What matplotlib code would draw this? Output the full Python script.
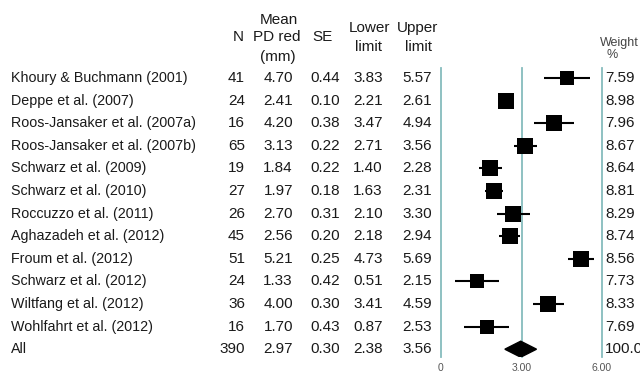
import matplotlib
matplotlib.use("Agg")
import matplotlib.pyplot as plt
from matplotlib import transforms
from matplotlib.patches import Polygon
import numpy as np

plt.rcParams['font.family'] = ['Liberation Sans', 'DejaVu Sans']

studies = ["Khoury & Buchmann (2001)", "Deppe et al. (2007)", "Roos-Jansaker et al. (2007a)",
           "Roos-Jansaker et al. (2007b)", "Schwarz et al. (2009)", "Schwarz et al. (2010)",
           "Roccuzzo et al. (2011)", "Aghazadeh et al. (2012)", "Froum et al. (2012)",
           "Schwarz et al. (2012)", "Wiltfang et al. (2012)", "Wohlfahrt et al. (2012)"]
n_vals = [41, 24, 16, 65, 19, 27, 26, 45, 51, 24, 36, 16]
means = [4.70, 2.41, 4.20, 3.13, 1.84, 1.97, 2.70, 2.56, 5.21, 1.33, 4.00, 1.70]
ses = [0.44, 0.10, 0.38, 0.22, 0.22, 0.18, 0.31, 0.20, 0.25, 0.42, 0.30, 0.43]
lowers = [3.83, 2.21, 3.47, 2.71, 1.40, 1.63, 2.10, 2.18, 4.73, 0.51, 3.41, 0.87]
uppers = [5.57, 2.61, 4.94, 3.56, 2.28, 2.31, 3.30, 2.94, 5.69, 2.15, 4.59, 2.53]
weights = [7.59, 8.98, 7.96, 8.67, 8.64, 8.81, 8.29, 8.74, 8.56, 7.73, 8.33, 7.69]

all_label = "All"
all_n = 390
all_mean, all_se, all_lower, all_upper = 2.97, 0.30, 2.38, 3.56
all_weight = "100.0"

ticks = [0, 3, 6]
tick_labels = ["0", "3.00", "6.00"]

W, H = 640, 373
fig = plt.figure(figsize=(6.4, 3.73), dpi=100)

# forest axes: x 0..6 -> px 441..602 ; rows at px 78 + 22.6*i
x0, x1 = 441, 602
y_top, y_bot = 68, 357
row0, drow = 78, 22.6
ax = fig.add_axes([x0 / W, 1 - y_bot / H, (x1 - x0) / W, (y_bot - y_top) / H])
ax.set_xlim(0, 6)
ax.set_ylim((y_bot - row0) / drow, (y_top - row0) / drow)
for s in ax.spines.values():
    s.set_visible(False)
ax.set_yticks([])
ax.set_xticks(ticks)
ax.set_xticklabels(tick_labels, fontsize=7.5, color="#555555")
ax.tick_params(axis='x', length=0, pad=4)
ax.patch.set_alpha(0)

vcol = "#86bcbd"
for t in ticks:
    ax.axvline(t, color=vcol, lw=1.3, zorder=1, clip_on=False)

ypos = np.arange(len(studies))
for i in range(len(studies)):
    ax.plot([lowers[i], uppers[i]], [ypos[i], ypos[i]], color="black", lw=1.5, zorder=3,
            solid_capstyle='butt', clip_on=False)
    side_px = 16 * np.sqrt(weights[i] / max(weights))
    ax.plot(means[i], ypos[i], marker="s", color="black", ms=side_px * 0.72, zorder=4,
            clip_on=False, markeredgewidth=0)

yall = len(studies)
hh = 8 / drow
diamond = Polygon([[all_lower, yall], [all_mean, yall - hh], [all_upper, yall], [all_mean, yall + hh]],
                  closed=True, facecolor="black", edgecolor="black", zorder=4)
ax.add_patch(diamond)

# text columns
tr = transforms.blended_transform_factory(fig.transFigure, ax.transData)
fs = 11
fs_lab = 10.3
tc = "#1a1a1a"

def fx(px):
    return px / W

def rowy(py):
    return (py - row0) / drow

labels = studies + [all_label]
ns = n_vals + [all_n]
ms_ = means + [all_mean]
ses_ = ses + [all_se]
lo_ = lowers + [all_lower]
up_ = uppers + [all_upper]
wt_ = [f"{w:.2f}" for w in weights] + [all_weight]

for i in range(len(labels)):
    y = i
    fig.text(fx(11), y, labels[i], transform=tr, fontsize=fs_lab, color=tc, ha="left", va="center")
    fig.text(fx(245), y, str(ns[i]), transform=tr, fontsize=fs, color=tc, ha="right", va="center")
    fig.text(fx(293), y, f"{ms_[i]:.2f}", transform=tr, fontsize=fs, color=tc, ha="right", va="center")
    fig.text(fx(340), y, f"{ses_[i]:.2f}", transform=tr, fontsize=fs, color=tc, ha="right", va="center")
    fig.text(fx(383), y, f"{lo_[i]:.2f}", transform=tr, fontsize=fs, color=tc, ha="right", va="center")
    fig.text(fx(432), y, f"{up_[i]:.2f}", transform=tr, fontsize=fs, color=tc, ha="right", va="center")
    fig.text(fx(605), y, wt_[i], transform=tr, fontsize=fs, color=tc, ha="left", va="center")

# headers
hdr = [
    (238, 37, "N"),
    (279, 20, "Mean"),
    (277, 37, "PD red"),
    (278, 57, "(mm)"),
    (322, 37, "SE"),
    (369, 28, "Lower"),
    (369, 47, "limit"),
    (418, 28, "Upper"),
    (418, 47, "limit"),
]
for px, py, s in hdr:
    fig.text(fx(px), rowy(py), s, transform=tr, fontsize=fs, color=tc, ha="center", va="center")
fig.text(fx(600), rowy(43), "Weight", transform=tr, fontsize=9, color="#444444", ha="left", va="center")
fig.text(fx(612), rowy(55), "%", transform=tr, fontsize=9, color="#444444", ha="center", va="center")

fig.savefig("out.png", dpi=100)
